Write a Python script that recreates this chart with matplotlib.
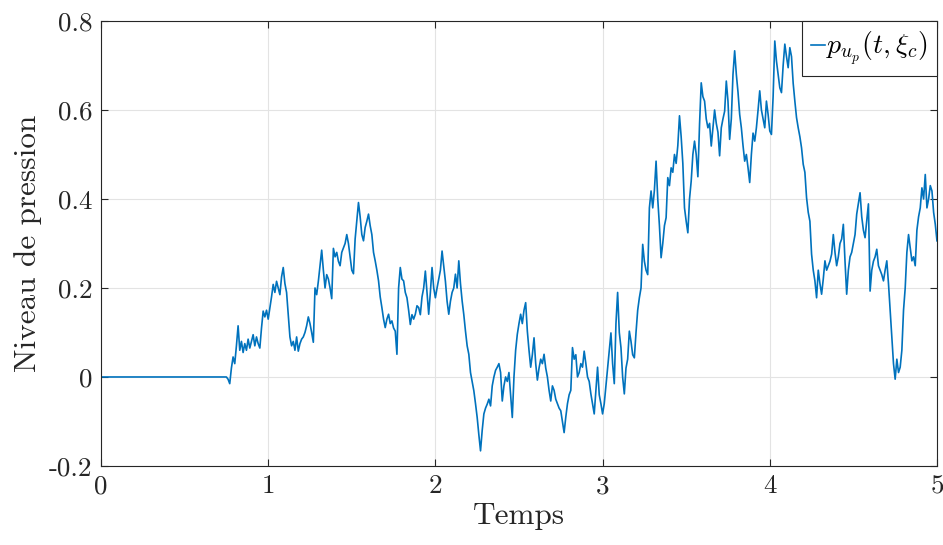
import matplotlib

matplotlib.use("Agg")

import matplotlib.pyplot as plt
import numpy as np

# flat part before the signal starts
t_flat = [0.0, 0.75]
p_flat = [0.0, 0.0]

# signal, one value per 0.01 s from 0.75 to 5.00
t_start = 0.75
t_step = 0.01
p_values = [
    0.0, -0.005, -0.015, 0.02, 0.045, 0.03, 0.07, 0.115, 0.06, 0.08,
    0.055, 0.075, 0.06, 0.085, 0.065, 0.08, 0.095, 0.07, 0.09, 0.075,
    0.065, 0.11, 0.148, 0.135, 0.15, 0.13, 0.155, 0.18, 0.208, 0.19,
    0.215, 0.2, 0.185, 0.225, 0.246, 0.21, 0.19, 0.14, 0.09, 0.07,
    0.08, 0.06, 0.09, 0.058, 0.075, 0.085, 0.09, 0.1, 0.115, 0.135,
    0.12, 0.1, 0.078, 0.2, 0.185, 0.215, 0.25, 0.285, 0.24, 0.2,
    0.23, 0.22, 0.2, 0.176, 0.289, 0.27, 0.28, 0.26, 0.25, 0.28,
    0.29, 0.3, 0.32, 0.3, 0.27, 0.24, 0.232, 0.31, 0.35, 0.392,
    0.36, 0.32, 0.306, 0.336, 0.35, 0.366, 0.34, 0.32, 0.28, 0.261,
    0.24, 0.216, 0.18, 0.156, 0.13, 0.111, 0.13, 0.141, 0.12, 0.126,
    0.11, 0.103, 0.051, 0.2, 0.246, 0.22, 0.216, 0.19, 0.178, 0.15,
    0.118, 0.14, 0.13, 0.141, 0.16, 0.156, 0.14, 0.18, 0.2, 0.238,
    0.19, 0.141, 0.19, 0.246, 0.2, 0.178, 0.2, 0.22, 0.24, 0.283,
    0.25, 0.215, 0.17, 0.141, 0.17, 0.19, 0.2, 0.231, 0.2, 0.261,
    0.21, 0.171, 0.14, 0.103, 0.07, 0.051, 0.01, -0.01, -0.031, -0.06,
    -0.091, -0.13, -0.166, -0.12, -0.083, -0.07, -0.061, -0.05, -0.065, -0.02,
    0.0, 0.015, 0.022, 0.03, 0.01, -0.054, -0.02, 0.0, -0.01, 0.01,
    -0.04, -0.091, 0.0, 0.06, 0.096, 0.12, 0.141, 0.12, 0.15, 0.167,
    0.103, 0.06, 0.022, 0.05, 0.088, 0.03, -0.007, 0.02, 0.04, 0.03,
    0.051, 0.02, 0.0, -0.03, -0.054, -0.02, -0.03, -0.05, -0.06, -0.07,
    -0.076, -0.1, -0.125, -0.09, -0.06, -0.04, -0.03, 0.066, 0.04, 0.05,
    0.0, 0.01, 0.03, 0.022, 0.058, 0.03, 0.0, -0.01, -0.038, -0.06,
    -0.083, -0.03, 0.022, -0.04, -0.06, -0.083, -0.06, -0.02, 0.02, 0.06,
    0.099, 0.03, -0.015, 0.12, 0.19, 0.1, 0.066, 0.0, -0.038, 0.02,
    0.04, 0.103, 0.08, 0.05, 0.043, 0.1, 0.15, 0.178, 0.2, 0.298,
    0.26, 0.24, 0.23, 0.38, 0.418, 0.38, 0.42, 0.485, 0.4, 0.34,
    0.268, 0.3, 0.34, 0.358, 0.448, 0.43, 0.47, 0.46, 0.5, 0.48,
    0.52, 0.587, 0.54, 0.48, 0.38, 0.35, 0.324, 0.4, 0.44, 0.5,
    0.53, 0.5, 0.45, 0.568, 0.661, 0.63, 0.62, 0.58, 0.56, 0.57,
    0.519, 0.56, 0.6, 0.57, 0.55, 0.497, 0.56, 0.58, 0.597, 0.665,
    0.62, 0.534, 0.58, 0.68, 0.733, 0.68, 0.64, 0.59, 0.56, 0.52,
    0.485, 0.5, 0.47, 0.437, 0.5, 0.548, 0.53, 0.56, 0.6, 0.643,
    0.6, 0.58, 0.56, 0.62, 0.59, 0.553, 0.545, 0.63, 0.755, 0.71,
    0.68, 0.65, 0.639, 0.7, 0.748, 0.72, 0.695, 0.74, 0.72, 0.66,
    0.62, 0.583, 0.56, 0.54, 0.515, 0.478, 0.46, 0.403, 0.37, 0.35,
    0.276, 0.24, 0.216, 0.178, 0.24, 0.21, 0.186, 0.22, 0.261, 0.24,
    0.25, 0.26, 0.276, 0.32, 0.28, 0.25, 0.27, 0.3, 0.31, 0.343,
    0.26, 0.186, 0.24, 0.27, 0.28, 0.3, 0.32, 0.366, 0.39, 0.414,
    0.36, 0.33, 0.313, 0.35, 0.389, 0.193, 0.24, 0.26, 0.27, 0.287,
    0.25, 0.24, 0.23, 0.216, 0.24, 0.261, 0.21, 0.15, 0.09, 0.03,
    -0.005, 0.04, 0.01, 0.022, 0.06, 0.15, 0.2, 0.28, 0.32, 0.29,
    0.261, 0.27, 0.25, 0.33, 0.36, 0.38, 0.425, 0.4, 0.455, 0.38,
    0.4, 0.43, 0.418, 0.37, 0.343, 0.306,
]

x_ticks = [0, 1, 2, 3, 4, 5]
x_tick_labels = ["0", "1", "2", "3", "4", "5"]
y_ticks = [-0.2, 0, 0.2, 0.4, 0.6, 0.8]
y_tick_labels = ["-0.2", "0", "0.2", "0.4", "0.6", "0.8"]

plt.rcParams.update(
    {
        "font.family": "serif",
        "font.serif": ["cmr10"],
        "mathtext.fontset": "cm",
        "axes.unicode_minus": False,
        "axes.formatter.use_mathtext": True,
    }
)

t_sig = t_start + t_step * np.arange(len(p_values))
t = np.concatenate([t_flat, t_sig])
p = np.concatenate([p_flat, p_values])

fig = plt.figure(figsize=(9.43, 5.45), dpi=100)
ax = fig.add_axes([0.1071, 0.1450, 0.8865, 0.8165])

ax.plot(t, p, color="#0072BD", linewidth=1.2, label=r"$p_{u_p}(t,\xi_c)$")

ax.set_xlim(0, 5)
ax.set_ylim(-0.2, 0.8)
ax.set_xticks(x_ticks)
ax.set_xticklabels(x_tick_labels)
ax.set_yticks(y_ticks)
ax.set_yticklabels(y_tick_labels)
ax.tick_params(
    direction="in", length=5, width=0.8, top=True, right=True,
    labelsize=19.5, colors="#262626", pad=6,
)
ax.grid(True, color="#E3E3E3", linewidth=0.8)
ax.set_axisbelow(True)
for s in ax.spines.values():
    s.set_color("#262626")
    s.set_linewidth(0.8)

ax.set_xlabel("Temps", fontsize=22.5, color="#262626", labelpad=3)
ax.set_ylabel("Niveau de pression", fontsize=22.5, color="#262626", labelpad=5)

leg = ax.legend(
    loc="upper right", borderaxespad=0, fontsize=20, fancybox=False,
    handlelength=0.5, handletextpad=0.05, borderpad=0.32, framealpha=1,
)
leg.get_frame().set_edgecolor("#262626")
leg.get_frame().set_linewidth(0.8)

fig.savefig("out.png", dpi=100, facecolor="white")
